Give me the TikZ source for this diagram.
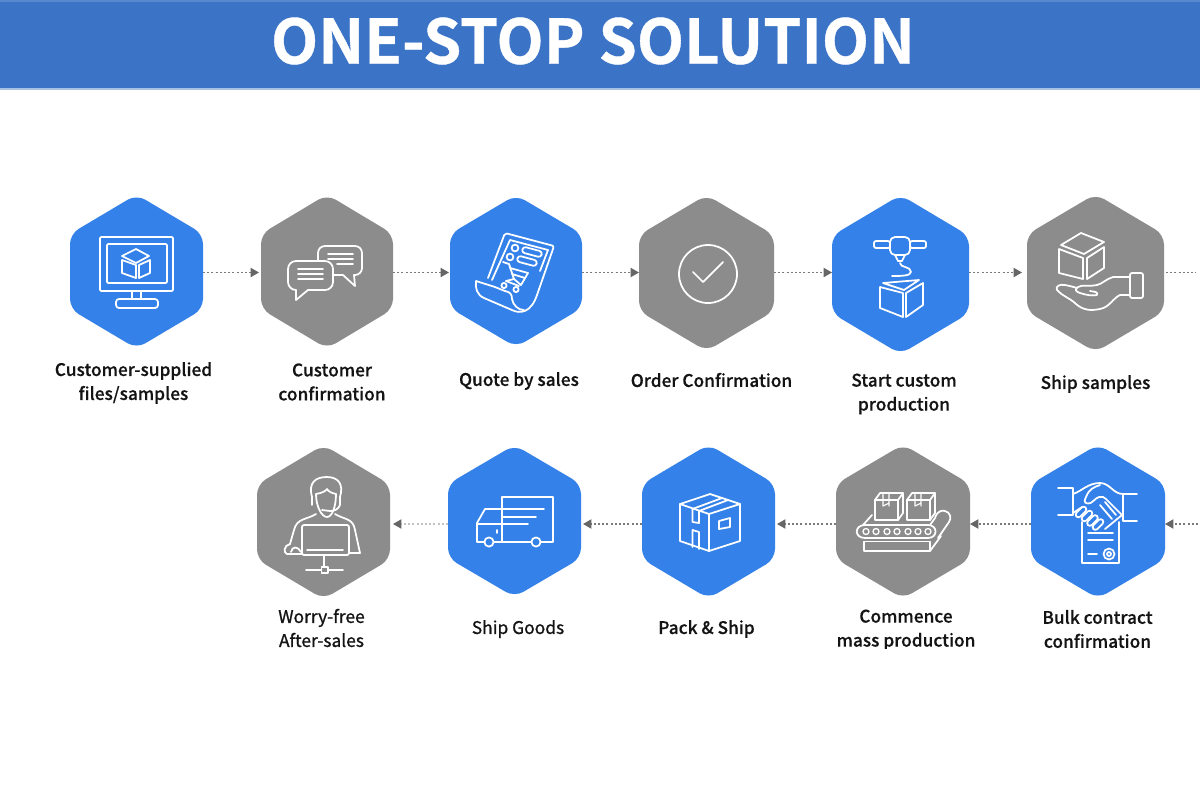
\documentclass[tikz,border=0pt]{standalone}
\usepackage{fontspec}
\usetikzlibrary{arrows.meta}
\newfontfamily\titlefont{Noto Sans CJK SC Bold}[FakeBold=0.6]
\newfontfamily\labfont{Noto Sans CJK SC Medium}[FakeBold=0.35]
\newfontfamily\lablight{Noto Sans CJK SC}[FakeBold=0.9]
\definecolor{banner}{HTML}{3B74C6}
\definecolor{hexblue}{HTML}{3481E9}
\definecolor{hexgray}{HTML}{8C8C8C}
\definecolor{flowgray}{HTML}{7A7A7A}
\definecolor{tipgray}{HTML}{666666}
\tikzset{
  x=0.5pt,y=-0.5pt,
  hexbox/.style={inner sep=0pt,outer sep=0pt,draw=none,fill=none},
  hexfill/.style={rounded corners=5pt},
  icon/.style={draw=white,line width=0.88pt,line join=round,line cap=round,fill=none},
  lab/.style={text=black!92,align=center,inner sep=0pt,font=\labfont\fontsize{8.65}{12}\selectfont},
  lablt/.style={lab,font=\lablight\fontsize{8.7}{12}\selectfont},
  flow/.style={draw=flowgray,line width=0.7pt,dash pattern=on 1pt off 1.1pt},
  tip/.style={-{Triangle[width=4.6pt,length=4.2pt,color=tipgray]}},
  flowfaint/.style={flow,draw=flowgray!45},
}
\newcommand{\hexa}[7]{% name cx cy hw hh rowy colour
  \fill[#7,hexfill] ({#2},{#3-#5-2}) -- ({#2+#4},{#3-0.5*#5}) -- ({#2+#4},{#3+0.5*#5})
    -- ({#2},{#3+#5+2}) -- ({#2-#4},{#3+0.5*#5}) -- ({#2-#4},{#3-0.5*#5}) -- cycle;
  \node[hexbox,minimum width={#4*1pt},minimum height={#5*1pt}] (#1) at (#2,#6) {};
}
\begin{document}
\begin{tikzpicture}
\useasboundingbox (0,0) rectangle (1200,800);
\fill[white] (0,0) rectangle (1200,800);
% banner
\fill[banner] (0,0) rectangle (1200,88);
\fill[banner!85!white] (0,0) rectangle (1200,1.5);
\fill[banner!45!white] (0,88) rectangle (1200,89.5);
\node[text=white,inner sep=0pt,font=\titlefont\fontsize{30.7}{36}\selectfont] (title) at (593,41) {ONE-STOP SOLUTION};

% hexagons
\hexa{h1}{136.5}{271.5}{66.5}{75}{272.5}{hexblue}
\hexa{h2}{327}{271.5}{66}{75}{272.5}{hexgray}
\hexa{h3}{516}{271}{66}{74}{272.5}{hexblue}
\hexa{h4}{706.5}{273}{67.5}{76}{272.5}{hexgray}
\hexa{h5}{900.5}{274.5}{68.5}{77.5}{272.5}{hexblue}
\hexa{h6}{1095.5}{273}{68.5}{77}{272.5}{hexgray}
\hexa{h7}{1098}{521.5}{67}{75}{524}{hexblue}
\hexa{h8}{903}{521.5}{67}{75}{524}{hexgray}
\hexa{h9}{708.5}{521.5}{66.5}{75}{524}{hexblue}
\hexa{h10}{514.5}{521}{66.5}{74}{524}{hexblue}
\hexa{h11}{323.5}{522}{66.5}{75}{524}{hexgray}

% connectors
\coordinate (rowoneend) at (1196,272.5);
\coordinate (rowtwostart) at (1198,524);
\draw[flow,tip,shorten >=1pt] (h1.east) -- (h2.west);
\draw[flow,tip,shorten >=0.5pt] (h2.east) -- (h3.west);
\draw[flow,tip] (h3.east) -- (h4.west);
\draw[flow,tip] (h4.east) -- (h5.west);
\draw[flow,tip,shorten >=2.5pt] (h5.east) -- (h6.west);
\draw[flow,shorten <=1pt] (h6.east) -- (rowoneend);
\draw[flow,tip] (rowtwostart) -- (h7.east);
\draw[flow,tip] (h7.west) -- (h8.east);
\draw[flow,tip,shorten >=1pt] (h8.west) -- (h9.east);
\draw[flow,tip,shorten >=1pt] (h9.west) -- (h10.east);
\draw[flowfaint,tip,shorten >=1.5pt] (h10.west) -- (h11.east);

% icon 1 monitor
\draw[icon,rounded corners=0.6pt] (100,237) rectangle (173,291);
\draw[icon,rounded corners=0.6pt] (107,244) rectangle (167,283);
\draw[icon] (132,291) -- (132,299) (141,291) -- (141,299);
\draw[icon,rounded corners=1.5pt] (116,299) rectangle (158,308);
\draw[icon] (136,249) -- (149,256) -- (136,263) -- (122,256) -- cycle;
\draw[icon] (122,260) -- (122,273) -- (136,278) -- (136,265) -- cycle;
\draw[icon] (139,265) -- (139,278) -- (150,273) -- (150,260) -- cycle;

% icon 2 chat
\draw[icon,rounded corners=3.5pt] (318,260) -- (318,246) -- (362,246) -- (362,275) -- (354,275);
\draw[icon] (354,275) -- (355,286) -- (343,275) -- (334,275);
\draw[icon,rounded corners=4pt] (296,290) -- (288,290) -- (288,261) -- (333,261) -- (333,290) -- (308,290);
\draw[icon] (296,290) -- (296,300) -- (308,290);
\draw[icon] (298,269) -- (323,269) (298,274) -- (323,274) (298,279) -- (323,279);
\draw[icon] (328,254) -- (353,254) (328,259) -- (353,259) (337,264) -- (353,264);

% icon 3 quote
\draw[icon,rounded corners=1pt] (488,278) -- (505,233) -- (554,246) -- (537,295);
\draw[icon] (537,295) .. controls (531,313) and (520,314) .. (512,310) -- (484,298)
  .. controls (477,295) and (475,288) .. (476,281) -- (495,287) -- (505,291)
  .. controls (510,292) and (512,294) .. (512,299) .. controls (513,305) and (518,310) .. (524,310);
\draw[icon] (492,280) -- (510,240) -- (548,250) -- (540,271);
\draw[icon] (515,248) circle[radius=3.4];
\draw[icon] (510,257) circle[radius=3.4];
\draw[icon,rotate around={-15:(532,252)},rounded corners=1.5pt] (522,249) rectangle (542,255);
\draw[icon,rotate around={-15:(527,261)},rounded corners=1.5pt] (517,258) rectangle (537,264);
\draw[icon] (503,262) -- (509,264) -- (514,279) -- (506,281);
\draw[icon] (510,268) -- (528,273) -- (521,285) -- (514,279);
\draw[icon] (512,274) -- (525,278);
\draw[icon] (506,281) -- (519,286);
\draw[icon] (504,285.5) circle[radius=2.6] (516,289.5) circle[radius=2.6];

% icon 4 check
\draw[icon] (708,274) circle[radius=29];
\draw[icon] (693,272) -- (703,282) -- (723,262);

% icon 5 printer
\draw[icon,rounded corners=2.5pt] (890,237) rectangle (910,255);
\draw[icon] (895,255) -- (898,261) -- (902,261) -- (905,255);
\draw[icon,rounded corners=1pt] (874,241) rectangle (890,248);
\draw[icon,rounded corners=1pt] (910,241) rectangle (926,248);
\draw[icon] (900,263) .. controls (900,268) and (911,266) .. (911,272) .. controls (911,276) and (900,276) .. (892,276);
\draw[icon] (883,283) -- (919,280) -- (904,290) -- cycle;
\draw[icon] (880,287) -- (880,308) -- (903,317) -- (903,293) -- cycle;
\draw[icon] (906,293) -- (906,317) -- (923,305) -- (923,283) -- cycle;

% icon 6 hand and cube
\draw[icon] (1081,233) -- (1104,242) -- (1084,254) -- (1061,245) -- cycle;
\draw[icon] (1059,249) -- (1059,273) -- (1083,279) -- (1083,258) -- cycle;
\draw[icon] (1087,258) -- (1087,279) -- (1104,268) -- (1104,247) -- cycle;
\draw[icon,rounded corners=1pt] (1130,273) rectangle (1143,298);
\draw[icon] (1130,277) -- (1113,277) .. controls (1106,279) and (1102,284) .. (1097,285)
  .. controls (1090,287) and (1083,284) .. (1078,287) .. controls (1074,289) and (1076,292) .. (1080,293)
  .. controls (1086,295) and (1092,296) .. (1097,295) .. controls (1098,292) and (1096,292) .. (1090,291);
\draw[icon] (1130,295) -- (1120,295) .. controls (1113,298) and (1110,307) .. (1100,309)
  .. controls (1090,311) and (1083,310) .. (1076,304) .. controls (1070,298) and (1062,296) .. (1057,290)
  .. controls (1055,286) and (1060,284) .. (1065,285) .. controls (1070,286) and (1074,287) .. (1077,288);

% icon 7 handshake
\draw[icon] (1058,488) -- (1073,488) -- (1073,515) -- (1058,515);
\draw[icon] (1137,494) -- (1123,494) -- (1123,521) -- (1137,521);
\draw[icon] (1073,494) .. controls (1082,491) and (1088,483) .. (1100,483) .. controls (1110,483) and (1113,494) .. (1123,494);
\draw[icon] (1100,485) .. controls (1094,487) and (1089,489) .. (1086,497) .. controls (1084,501) and (1084,503) .. (1088,503.5)
  .. controls (1092,504) and (1095,498) .. (1099,497) .. controls (1102,496) and (1104,497) .. (1106,499) -- (1122,515) -- (1105,529);
\draw[icon] (1073,513) -- (1082,507);
\draw[icon] (1105,502) -- (1116,515) (1100,505) -- (1112,519);
\foreach \cx/\cy in {1081/512,1087/516,1092.5/520.5,1098/524.5}
  \draw[icon,rotate around={45:(\cx,\cy)},rounded corners=1.5pt] (\cx-6.5,\cy-2.8) rectangle (\cx+6.5,\cy+2.8);
\draw[icon] (1082,522) -- (1082,563) -- (1119,563) -- (1119,522);
\draw[icon] (1088,533) -- (1113,533) (1088,540) -- (1113,540) (1088,554) -- (1097,554);
\draw[icon] (1109,554) circle[radius=5.5] (1109,554) circle[radius=2];

% icon 8 conveyor
\draw[icon] (865,525) -- (928,525) .. controls (938,525) and (938,538) .. (928,538) -- (865,538)
  .. controls (854,538) and (854,525) .. (865,525);
\draw[icon] (863,525) -- (872,515);
\draw[icon] (930,525) -- (935,518) .. controls (937,511) and (942,510) .. (945,511) .. controls (950,512) and (952,518) .. (949,522) -- (938,538);
\draw[icon] (864,541.5) -- (864,551) -- (930,551) -- (930,541.5) -- cycle;
\draw[icon] (930,551) -- (941,536);
\foreach \cx in {866,876,887,897,908,918,928}
  \draw[icon,line width=0.65pt] (\cx,531.5) circle[radius=3];
\foreach \dx in {0,32}{
  \draw[icon] (875+\dx,500) -- (880+\dx,493) -- (903+\dx,493) -- (903+\dx,513) -- (898+\dx,520) -- (875+\dx,520) -- cycle;
  \draw[icon] (875+\dx,500) -- (898+\dx,500) -- (898+\dx,520) (898+\dx,500) -- (903+\dx,493);
  \draw[icon,line width=0.55pt] (883+\dx,494) -- (883+\dx,506) (889+\dx,494) -- (889+\dx,506) (883+\dx,506) -- (889+\dx,503);
}

% icon 9 box
\draw[icon] (680,504) -- (710,494) -- (740,504) -- (709,514) -- cycle;
\draw[icon] (680,504) -- (680,541) -- (709,551) -- (740,541) -- (740,504);
\draw[icon] (709,514) -- (709,551);
\draw[icon] (692.5,509) -- (722,498) (699,511) -- (728,500);
\draw[icon] (692.5,509) -- (692.5,522) -- (699,523) -- (699,511);
\draw[icon] (692.5,530) -- (692.5,547) (692.5,530) -- (699,532) -- (699,549);
\draw[icon] (719,521) -- (730,518) -- (730,527) -- (719,529) -- cycle;

% icon 10 truck
\draw[icon] (502,542) -- (502,497) -- (553,497) -- (553,542) -- (541,542);
\draw[icon] (531,542) -- (494,542);
\draw[icon] (484,542) -- (477,542) -- (477,523) -- (485,509) -- (544,509);
\draw[icon] (502,517) -- (536,517) (477,524) -- (528,524);
\draw[icon] (489,542) circle[radius=4.6] (536,542) circle[radius=4.6];
\draw[icon] (497,530) -- (497,533);

% icon 11 agent
\draw[icon] (312,497) .. controls (308,482) and (316,477) .. (327,477) .. controls (338,477) and (344,484) .. (340,497);
\draw[icon] (316,494) .. controls (322,493) and (326,491) .. (327,489) .. controls (328,491) and (331,493) .. (336,494);
\draw[icon] (316,494) .. controls (316,507) and (322,517) .. (327,517) .. controls (332,517) and (336,507) .. (336,494);
\draw[icon] (312,497) -- (312,505) (340,497) -- (340,505) (340,505) .. controls (338,510) and (334,511) .. (330,511);
\draw[icon] (322,510) -- (330,511);
\draw[icon] (316,514) .. controls (306,520) and (297,518) .. (294,530) -- (290,544);
\draw[icon] (335,514) .. controls (345,520) and (353,518) .. (355,530) -- (360,553) -- (349,553);
\draw[icon] (290,544) .. controls (284,545) and (283,553) .. (287,554) -- (302,554);
\draw[icon] (291,552) .. controls (292,546) and (298,546) .. (301,552);
\draw[icon,rounded corners=1pt] (302,525) rectangle (349,555);
\draw[icon] (307,550) -- (343,550);
\draw[icon] (324,555) -- (324,567);
\draw[icon,line width=0.65pt] (321.5,567) rectangle (328,573);
\draw[icon] (306,570) -- (321.5,570) (328,570) -- (343,570);

% labels
\node[lab] (l1) at (133.5,383) {Customer-supplied\\files/samples};
\node[lab] (l2) at (332,382) {Customer\\confirmation};
\node[lab] (l3) at (519,381) {Quote by sales};
\node[lab] (l4) at (711.5,380) {Order Confirmation};
\node[lab] (l5) at (904,394) {Start custom\\production};
\node[lab] (l6) at (1095.5,384) {Ship samples};
\begin{scope}
\clip (0,600) rectangle (1200,648);
\node[lablt] (l7) at (321.5,628) {Worry-free\\After-sales};
\node[lablt] (l8) at (518,629) {Ship Goods};
\node[lab] (l9) at (706.5,629) {Pack \& Ship};
\node[lab] (l10) at (906,630) {Commence\\mass production};
\node[lab] (l11) at (1097.5,629) {Bulk contract\\confirmation};
\end{scope}
\end{tikzpicture}
\end{document}
